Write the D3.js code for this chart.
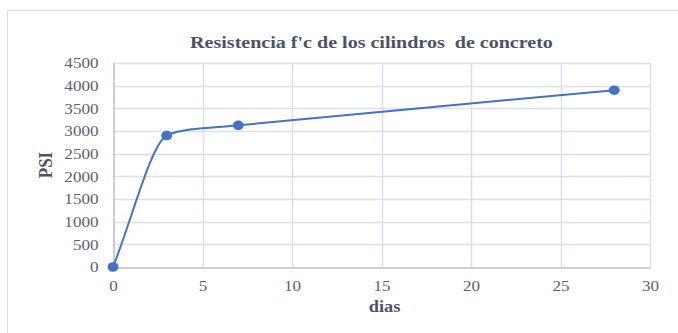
<!DOCTYPE html>
<html>
<head>
<meta charset="utf-8">
<script src="https://cdn.jsdelivr.net/npm/d3@7"></script>
<style>
  html, body { margin: 0; padding: 0; background: #fff; }
  svg { display: block; }
  text { font-family: "Liberation Serif", "Times New Roman", serif; }
</style>
</head>
<body>
<svg id="chart" width="678" height="333"></svg>
<script>
// Compressive strength of concrete cylinders by age
const dias = [0, 3, 7, 28];
const psi = [0, 2900, 3125, 3900];
const xTicks = [0, 5, 10, 15, 20, 25, 30];
const yTicks = [0, 500, 1000, 1500, 2000, 2500, 3000, 3500, 4000, 4500];
const titleText = "Resistencia f'c de los cilindros  de concreto";
const xTitle = "dias";
const yTitle = "PSI";

const W = 678, H = 333;
const plot = { left: 113, right: 650, top: 63, bottom: 267 };

// Spreadsheet-style smoothed line: cubic Bezier segments whose tangent at
// each interior point follows the chord-weighted direction of its neighbours,
// with short handles so the curve does not overshoot.
function curveSmoothed(context) {
  let pts;
  return {
    areaStart() {}, areaEnd() {},
    lineStart() { pts = []; },
    point(px, py) { pts.push([+px, +py]); },
    lineEnd() {
      const n = pts.length;
      if (!n) return;
      context.moveTo(pts[0][0], pts[0][1]);
      if (n === 1) return;
      const d = [], u = [];
      for (let i = 0; i < n - 1; i++) {
        const dx = pts[i + 1][0] - pts[i][0], dy = pts[i + 1][1] - pts[i][1];
        const L = Math.hypot(dx, dy);
        d.push(L); u.push([dx / L, dy / L]);
      }
      const T = pts.map((p, i) => {
        if (i === 0) return u[0];
        if (i === n - 1) return u[n - 2];
        const a = d[i - 1], b = d[i];
        const tx = b * u[i - 1][0] + a * u[i][0], ty = b * u[i - 1][1] + a * u[i][1];
        const m = Math.hypot(tx, ty);
        return [tx / m, ty / m];
      });
      const handle = (i, seg) =>
        (i === 0 || i === n - 1) ? d[seg] / 3 : Math.min(d[i - 1], d[i]) / 4;
      for (let i = 0; i < n - 1; i++) {
        const lo = handle(i, i), li = handle(i + 1, i);
        context.bezierCurveTo(
          pts[i][0] + T[i][0] * lo, pts[i][1] + T[i][1] * lo,
          pts[i + 1][0] - T[i + 1][0] * li, pts[i + 1][1] - T[i + 1][1] * li,
          pts[i + 1][0], pts[i + 1][1]);
      }
    }
  };
}

const svg = d3.select("#chart");

// chart area frame
svg.append("rect")
  .attr("x", 7.5).attr("y", 10.5)
  .attr("width", W + 10).attr("height", H + 10)
  .attr("fill", "#fff").attr("stroke", "#d9dde4").attr("stroke-width", 1);

const x = d3.scaleLinear().domain([0, 30]).range([plot.left, plot.right]);
const y = d3.scaleLinear().domain([0, 4500]).range([plot.bottom, plot.top]);

// gridlines
const grid = svg.append("g");
grid.selectAll("line.h").data(yTicks.filter(d => d > 0)).join("line")
  .attr("x1", plot.left).attr("x2", plot.right)
  .attr("y1", d => Math.round(y(d)) + 0.5).attr("y2", d => Math.round(y(d)) + 0.5)
  .attr("stroke", "#dadfe8").attr("stroke-width", 1.5);
grid.selectAll("line.v").data(xTicks.filter(d => d > 0)).join("line")
  .attr("y1", plot.top).attr("y2", plot.bottom)
  .attr("x1", d => Math.round(x(d)) + 0.5).attr("x2", d => Math.round(x(d)) + 0.5)
  .attr("stroke", "#dadfe8").attr("stroke-width", 1.5);

// axes
const xAxis = svg.append("g")
  .attr("transform", `translate(0,${plot.bottom + 0.5})`)
  .call(d3.axisBottom(x).tickValues(xTicks).tickSize(0).tickPadding(0).tickFormat(d3.format("d")));
const yAxis = svg.append("g")
  .attr("transform", `translate(${plot.left + 0.5},0)`)
  .call(d3.axisLeft(y).tickValues(yTicks).tickSize(0).tickPadding(0).tickFormat(d3.format("d")));
[xAxis, yAxis].forEach(g => {
  g.select(".domain").attr("stroke", "#b7c0cf").attr("stroke-width", 1.5);
  g.selectAll("text").attr("fill", "#5b6070").attr("font-size", 14)
    .attr("font-family", "Liberation Serif, serif");
});
xAxis.selectAll(".tick text")
  .attr("y", 0).attr("dy", 0)
  .attr("transform", "translate(0,23) scale(1.22,1)");
yAxis.selectAll(".tick text")
  .attr("x", 0).attr("dy", "0.35em")
  .attr("transform", "translate(-15,0) scale(1.22,1)");

// smoothed series line
const line = d3.line()
  .x((d, i) => x(dias[i]))
  .y(d => y(d))
  .curve(curveSmoothed);
svg.append("path")
  .datum(psi)
  .attr("d", line)
  .attr("fill", "none")
  .attr("stroke", "#4472c4")
  .attr("stroke-width", 2);

svg.append("g").selectAll("ellipse").data(psi).join("ellipse")
  .attr("cx", (d, i) => x(dias[i]))
  .attr("cy", d => y(d))
  .attr("rx", 5.5).attr("ry", 4.8)
  .attr("fill", "#4472c4");

// titles
svg.append("text")
  .attr("transform", `translate(${(plot.left + plot.right) / 2 - 10},48) scale(1.18,1)`)
  .attr("text-anchor", "middle")
  .attr("font-size", 17).attr("font-weight", "bold")
  .attr("fill", "#4a5467")
  .style("white-space", "pre")
  .text(titleText);

svg.append("text")
  .attr("transform", `translate(${(plot.left + plot.right) / 2 + 3},312) scale(1.15,1)`)
  .attr("text-anchor", "middle")
  .attr("font-size", 16).attr("font-weight", "bold")
  .attr("fill", "#4a5467")
  .text(xTitle);

svg.append("text")
  .attr("transform", `translate(52,${(plot.top + plot.bottom) / 2}) rotate(-90) scale(1,1.15)`)
  .attr("text-anchor", "middle")
  .attr("font-size", 17).attr("font-weight", "bold")
  .attr("fill", "#4a5467")
  .text(yTitle);
</script>
</body>
</html>
